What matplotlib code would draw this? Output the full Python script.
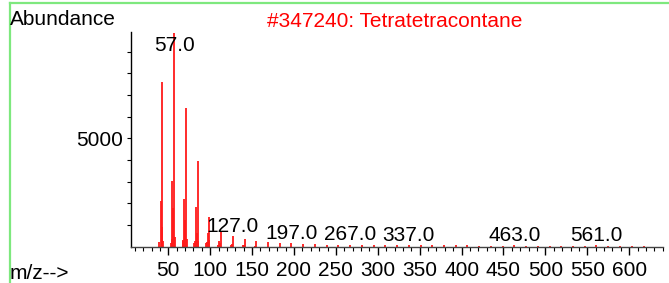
import matplotlib
matplotlib.use("Agg")
import matplotlib.pyplot as plt
from matplotlib.lines import Line2D
from matplotlib.ticker import MultipleLocator, FixedLocator

# spectrum data (m/z, abundance)
mz = [39, 41, 42, 43, 44, 53, 54, 55, 56, 57, 58, 67, 68, 69, 70, 71, 72,
      81, 82, 83, 84, 85, 86, 95, 96, 97, 98, 99, 109, 111, 112, 113,
      125, 126, 127, 139, 140, 141, 153, 155, 169, 183, 197, 211, 225, 239,
      253, 267, 281, 295, 309, 323, 337, 351, 365, 379, 393, 407, 421, 435,
      449, 463, 477, 491, 505, 519, 533, 547, 561, 575, 589, 603, 618]
abundance = [230, 2110, 900, 7580, 250, 150, 350, 3030, 1770, 9850, 430,
             250, 300, 2200, 1230, 6380, 350, 150, 250, 1815, 615, 3970, 280,
             150, 200, 615, 300, 1385, 100, 250, 150, 665,
             80, 120, 505, 60, 100, 340, 50, 277, 215, 170, 155, 125, 110, 100,
             90, 95, 80, 75, 75, 70, 90, 65, 65, 60, 60, 60, 55, 55,
             55, 85, 55, 50, 50, 50, 50, 50, 85, 45, 45, 45, 40]

labeled = [57, 127, 197, 267, 337, 463, 561]

title = "#347240: Tetratetracontane"
font = "Liberation Sans"
fs = 15

W, H = 669, 283
fig = plt.figure(figsize=(W / 100, H / 100), dpi=100)

# plot area
ax = fig.add_axes([131 / W, 36.3 / H, 531.7 / W, 215 / H])
ax.vlines(mz, 0, abundance, color="#ff1a1a", lw=1.3)

ax.set_xlim(5.5, 640)
ax.set_ylim(0, 9920)

for s in ["top", "right"]:
    ax.spines[s].set_visible(False)
ax.spines["left"].set_linewidth(1)
ax.spines["bottom"].set_linewidth(1)
ax.spines["bottom"].set_color("#444444")

ax.xaxis.set_minor_locator(MultipleLocator(10))
ax.set_xticks(range(50, 601, 50))
ax.tick_params(axis="x", which="major", length=5.5, width=1, pad=5,
               direction="out", labelsize=fs)
ax.tick_params(axis="x", which="minor", length=3, width=0.8, direction="out")

ax.yaxis.set_major_locator(FixedLocator([5000]))
ax.yaxis.set_minor_locator(FixedLocator([1000, 2000, 3000, 4000, 6000, 7000, 8000, 9000]))
ax.tick_params(axis="y", which="both", length=3, width=0.8, pad=3,
               direction="out", labelsize=fs)

for lab in ax.get_xticklabels() + ax.get_yticklabels():
    lab.set_fontfamily(font)

# peak labels
for m, a in zip(mz, abundance):
    if m not in labeled:
        continue
    if m == 57:
        ax.text(m, 9045, "57.0", ha="center", va="baseline",
                fontsize=fs, family=font)
    else:
        ax.annotate(f"{m}.0", (m, a), xytext=(0, 3), textcoords="offset points",
                    ha="center", va="baseline", fontsize=fs, family=font)

# header / footer texts
fig.text(10 / W, (H - 25) / H, "Abundance", ha="left", va="baseline",
         fontsize=fs, family=font)
fig.text(395 / W, (H - 26.7) / H, title, ha="center", va="baseline",
         fontsize=fs, family=font, color="red")
fig.text(10 / W, 4 / H, "m/z-->", ha="left", va="baseline",
         fontsize=fs, family=font)

# green frame lines (top and left)
green = "#7ee87e"
fig.add_artist(Line2D([9.5 / W, 1], [(H - 3.3) / H, (H - 3.3) / H],
                      transform=fig.transFigure, color=green, lw=1.6))
fig.add_artist(Line2D([9.5 / W, 9.5 / W], [0, (H - 3.3) / H],
                      transform=fig.transFigure, color=green, lw=1.6))

fig.savefig("out.png", dpi=100)
